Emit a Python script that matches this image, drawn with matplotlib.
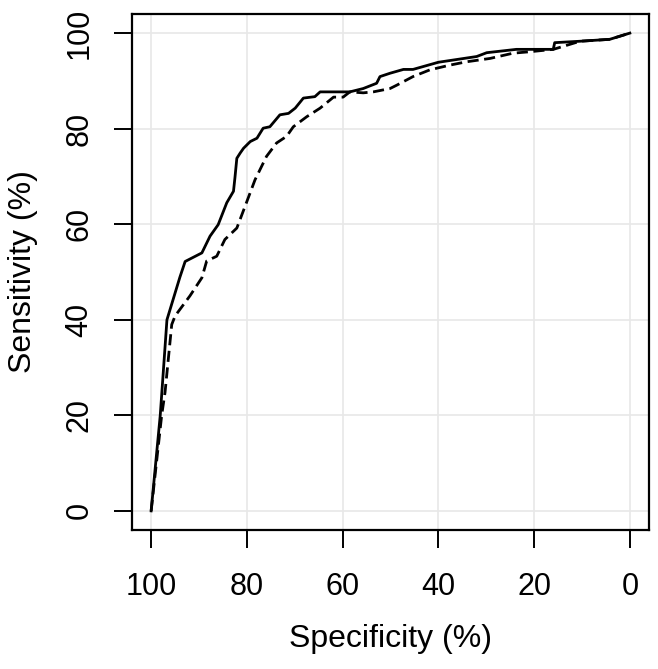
import matplotlib
matplotlib.use("Agg")
import matplotlib.pyplot as plt

# ROC curves: specificity (%) vs sensitivity (%)
solid_spec = [100, 98.1, 96.7, 94.0, 92.9, 89.4, 87.7, 86.0, 84.2, 82.8, 82.5, 82.1,
              81.4, 80.7, 79.3, 77.9, 76.6, 75.2, 73.1, 71.3, 69.9, 68.2, 65.8, 64.7,
              58.5, 55.7, 52.9, 52.2, 50.1, 47.3, 45.3, 40.0, 32.0, 29.9, 23.7, 16.0,
              15.7, 10.4, 4.2, 0]
solid_sens = [0, 20, 40, 48.9, 52.2, 54.0, 57.5, 59.9, 64.5, 66.9, 69.7, 73.8,
              74.9, 75.9, 77.3, 78.0, 80.1, 80.4, 82.9, 83.2, 84.3, 86.4, 86.7, 87.7,
              87.7, 88.4, 89.5, 90.9, 91.6, 92.4, 92.4, 93.9, 95.1, 95.9, 96.6, 96.6,
              98.0, 98.3, 98.7, 100]

dashed_spec = [100, 97.8, 97.1, 95.7, 95.0, 91.9, 89.4, 88.4, 86.3, 84.6, 82.1, 80.4,
               78.3, 75.9, 73.8, 71.7, 70.3, 67.5, 64.7, 61.9, 59.9, 58.5, 55.7, 53.6,
               50.1, 48.7, 45.3, 41.8, 37.6, 34.1, 29.2, 24.4, 20.9, 16.0, 14.0, 10.4,
               4.2, 0]
dashed_sens = [0, 20, 24.8, 39.0, 40.8, 45.0, 48.8, 52.3, 53.3, 56.8, 59.2, 63.7,
               69.3, 74.2, 77.0, 78.4, 80.4, 82.5, 84.3, 86.6, 86.6, 87.7, 87.5, 87.7,
               88.4, 89.1, 90.9, 92.3, 93.3, 94.0, 94.7, 95.8, 96.1, 96.6, 97.2, 98.3,
               98.7, 100]

ticks = [0, 20, 40, 60, 80, 100]

plt.rcParams["font.family"] = ["Liberation Sans", "DejaVu Sans"]

fig = plt.figure(figsize=(6.58, 6.69), dpi=100)
ax = fig.add_axes([132 / 658, 1 - 530 / 669, (649 - 132) / 658, (530 - 14) / 669])

ax.plot(solid_spec, solid_sens, color="black", linewidth=2.0, zorder=3)
ax.plot(dashed_spec, dashed_sens, color="black", linewidth=2.0,
        linestyle=(0, (4, 2)), zorder=3)

ax.set_xlim(104, -4)
ax.set_ylim(-4, 104)
ax.set_xticks(ticks)
ax.set_yticks(ticks)
ax.set_yticklabels([str(t) for t in ticks], rotation=90, va="center")

ax.grid(True, color="#e8e8e8", linewidth=1.2, zorder=0)
ax.set_axisbelow(True)

for s in ax.spines.values():
    s.set_linewidth(1.6)
ax.tick_params(direction="out", length=13, width=1.4, labelsize=22)
ax.tick_params(axis="x", pad=17)
ax.tick_params(axis="y", pad=14)

ax.set_xlabel("Specificity (%)", fontsize=23, labelpad=16)
ax.set_ylabel("Sensitivity (%)", fontsize=23, labelpad=19)

fig.savefig("out.png", dpi=100)
